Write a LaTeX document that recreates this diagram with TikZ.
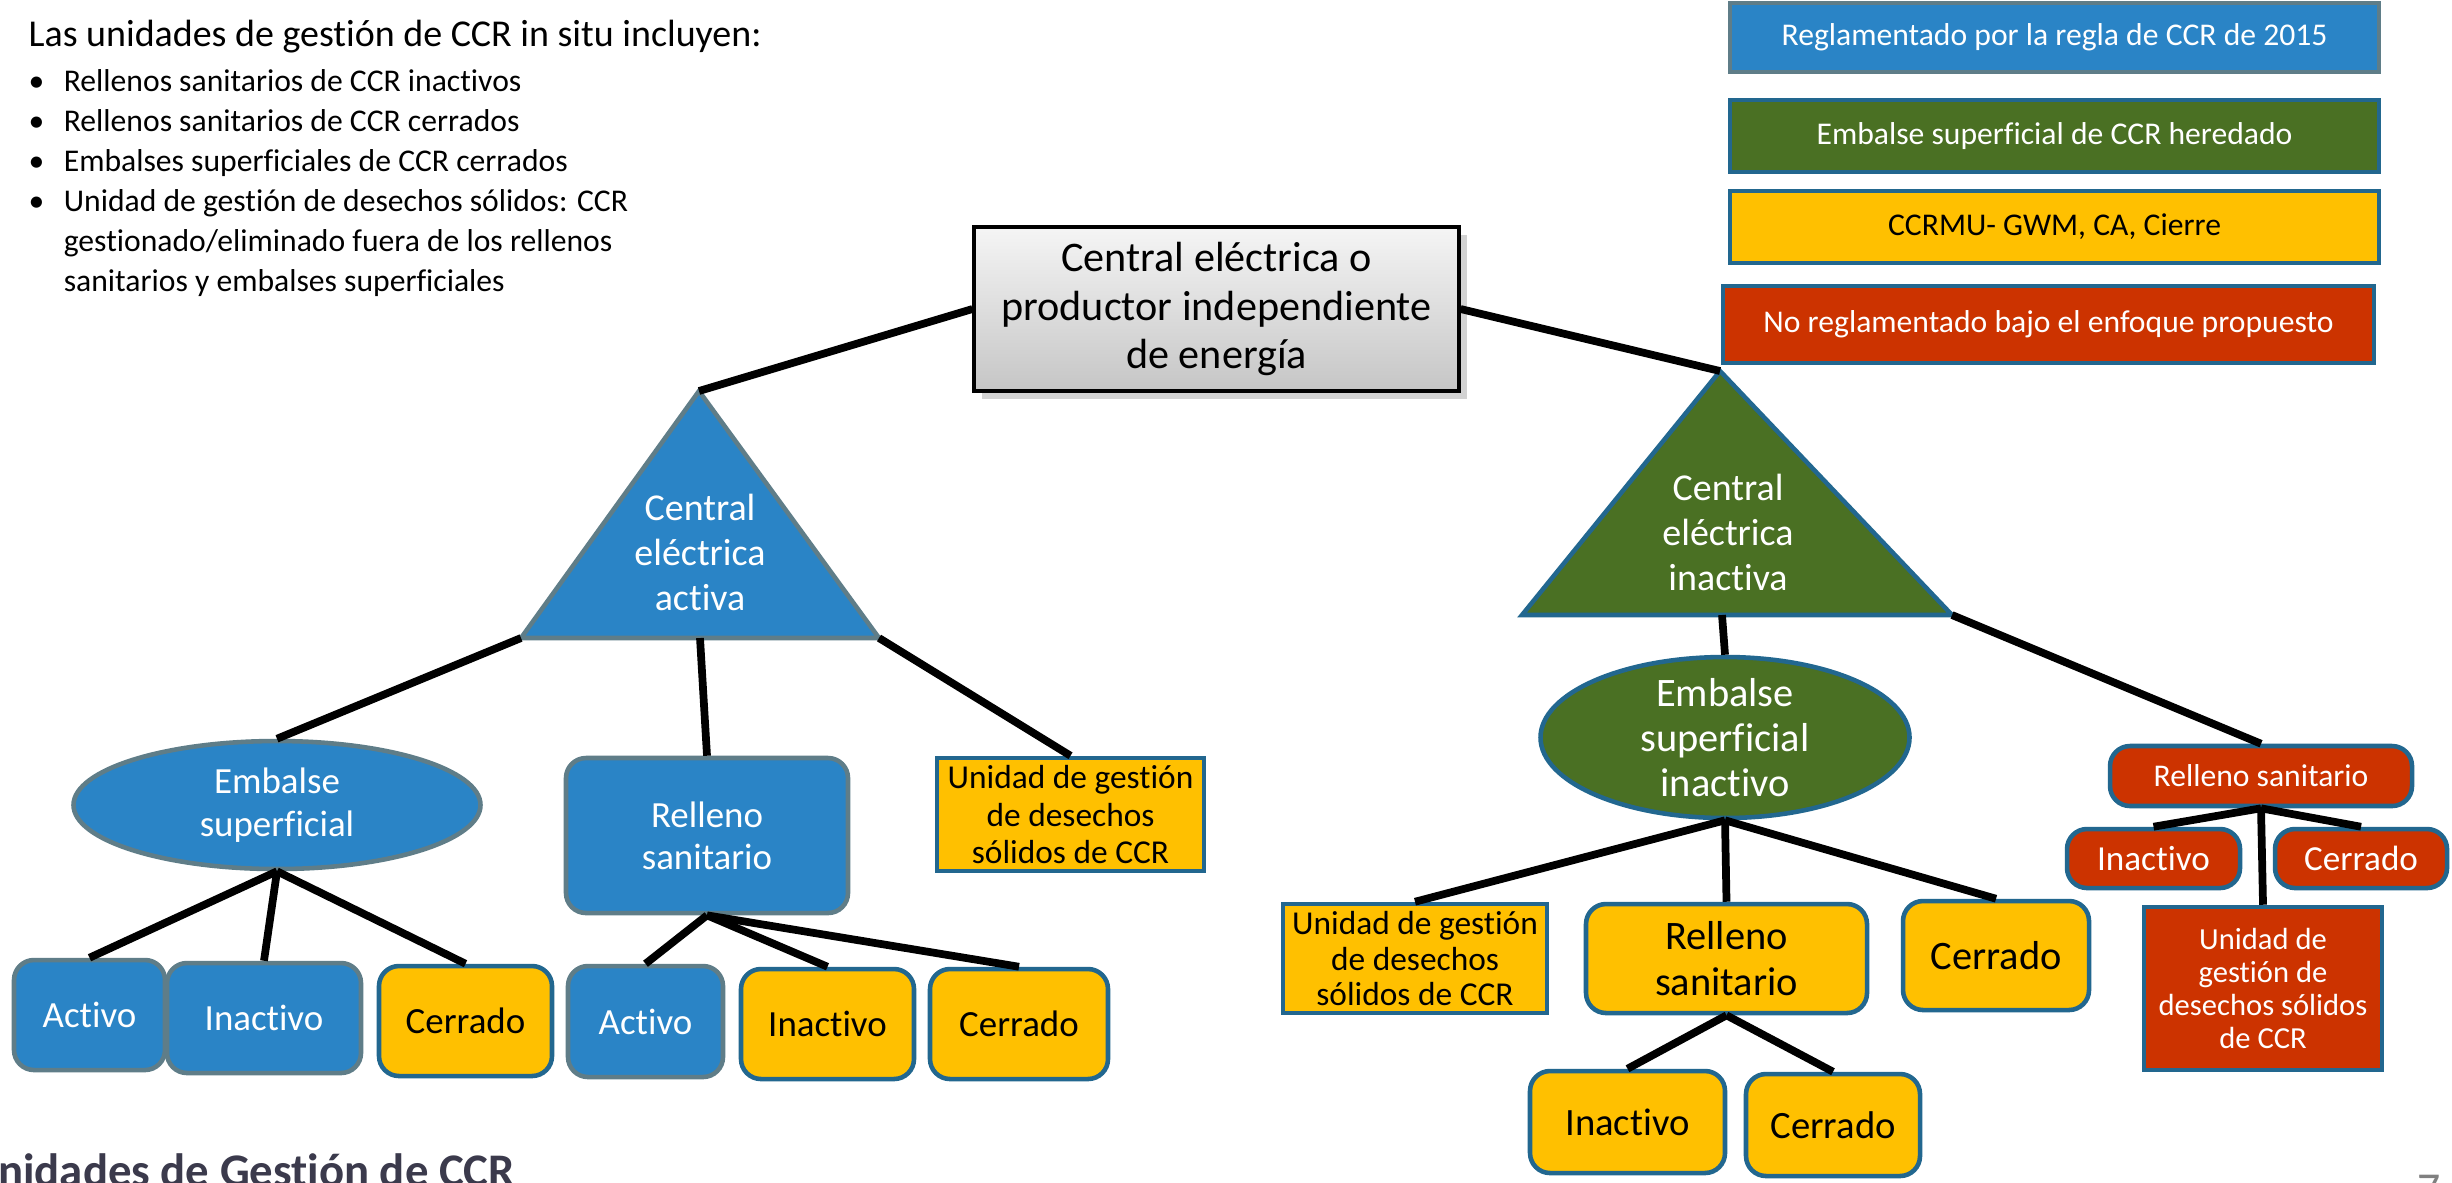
\documentclass[tikz,border=0pt]{standalone}
\usepackage{fontspec}
\setmainfont[Ligatures=NoCommon]{Carlito}
\usetikzlibrary{shapes.geometric}
\usetikzlibrary{shadows}

\definecolor{ccrblue}{HTML}{2A84C6}
\definecolor{ccrgreen}{HTML}{4A7023}
\definecolor{ccryellow}{HTML}{FFC000}
\definecolor{ccrred}{HTML}{CC3300}
\definecolor{edgegray}{HTML}{5F7D88}
\definecolor{edgeblue}{HTML}{22678F}
\definecolor{ttlgray}{HTML}{3B3A4C}

\newcommand{\fs}[2]{\fontsize{#1}{#2}\selectfont}

\tikzset{
  box/.style={draw, line width=1.3pt, align=center, inner sep=0pt},
  bluebox/.style={box, fill=ccrblue, draw=edgegray, text=white},
  greenbox/.style={box, fill=ccrgreen, draw=edgeblue, text=white},
  yellowbox/.style={box, fill=ccryellow, draw=edgeblue, text=black},
  redbox/.style={box, fill=ccrred, draw=edgeblue, text=white},
  rnd/.style={rounded corners=2mm},
  wh/.style 2 args={minimum width=#1cm, minimum height=#2cm},
  link/.style={line width=2.2pt, black},
}

\begin{document}
\begin{tikzpicture}
\useasboundingbox (0,0) rectangle (24.52,-11.82);
\clip (0,0) rectangle (24.52,-11.82);
\fill[white] (0,0) rectangle (24.52,-11.82);

\node[anchor=base west, inner sep=0pt, font=\fs{9}{11.4}] (lst) at (0.28,-0.46) {%
\begin{tabular}[t]{@{}p{10pt}@{}l@{}}
\multicolumn{2}{@{}l@{}}{\fs{10.8}{12.6}Las unidades de gestión de CCR in situ incluyen:}\\[1.5pt]
\textbullet & Rellenos sanitarios de CCR inactivos\\
\textbullet & Rellenos sanitarios de CCR cerrados\\
\textbullet & Embalses superficiales de CCR cerrados\\
\textbullet & Unidad de gestión de desechos sólidos: CCR\\
 & gestionado/eliminado fuera de los rellenos\\
 & sanitarios y embalses superficiales
\end{tabular}};

\node[bluebox, wh={6.49}{0.69}, font=\fs{9}{11}] (k1) at (20.545,-0.375) {Reglamentado por la regla de CCR de 2015};
\node[greenbox, wh={6.49}{0.72}, font=\fs{9}{11}] (k2) at (20.545,-1.36) {Embalse superficial de CCR heredado};
\node[yellowbox, wh={6.49}{0.72}, font=\fs{9}{11}] (k3) at (20.545,-2.27) {CCRMU- GWM, CA, Cierre};
\node[redbox, wh={6.51}{0.77}, font=\fs{9}{11}] (k4) at (20.485,-3.245) {No reglamentado bajo el enfoque propuesto};

\node[box, draw=black, line width=0.9pt, top color=gray!8, bottom color=gray!45,
  drop shadow={opacity=0.35}, wh={4.85}{1.64}, font=\fs{12}{13.8}] (p0) at (12.165,-3.09)
  {Central eléctrica o\\productor independiente\\de energía};

\coordinate (t1a) at (6.99,-3.91);
\coordinate (t1l) at (5.21,-6.38);
\coordinate (t1r) at (8.79,-6.38);
\coordinate (t1b) at (7.00,-6.38);
\draw[bluebox] (t1a) -- (t1l) -- (t1r) -- cycle;
\node[text=white, align=center, font=\fs{10.8}{12.8}] (t1) at (7.0,-5.52) {Central\\eléctrica\\activa};

\coordinate (t2a) at (17.20,-3.71);
\coordinate (t2l) at (15.22,-6.15);
\coordinate (t2r) at (19.52,-6.15);
\coordinate (t2b) at (17.22,-6.15);
\draw[greenbox] (t2a) -- (t2l) -- (t2r) -- cycle;
\node[text=white, align=center, font=\fs{10.8}{12.8}] (t2) at (17.28,-5.32) {Central\\eléctrica\\inactiva};

\node[bluebox, ellipse, wh={4.07}{1.28}, font=\fs{10.5}{12.4}] (e1) at (2.77,-8.05) {Embalse\\superficial};
\node[bluebox, rnd, wh={2.82}{1.55}, font=\fs{10.5}{12}] (b1) at (7.07,-8.355) {Relleno\\sanitario};
\node[yellowbox, wh={2.67}{1.13}, font=\fs{9.5}{10.7}] (u1) at (10.705,-8.145) {Unidad de gestión\\de desechos\\sólidos de CCR};

\node[bluebox, rnd, wh={1.51}{1.10}, font=\fs{10.5}{12}] (a1) at (0.895,-10.15) {Activo};
\node[bluebox, rnd, wh={1.94}{1.10}, font=\fs{10.5}{12}] (i1) at (2.64,-10.18) {Inactivo};
\node[yellowbox, rnd, wh={1.73}{1.10}, font=\fs{10.5}{12}] (c1) at (4.655,-10.21) {Cerrado};
\node[bluebox, rnd, wh={1.55}{1.11}, font=\fs{10.5}{12}] (a2) at (6.455,-10.215) {Activo};
\node[yellowbox, rnd, wh={1.73}{1.10}, font=\fs{10.5}{12}] (i2) at (8.275,-10.24) {Inactivo};
\node[yellowbox, rnd, wh={1.78}{1.10}, font=\fs{10.5}{12}] (c2) at (10.19,-10.24) {Cerrado};

\node[greenbox, ellipse, inner ysep=-0.12cm, wh={3.69}{1.61}, font=\fs{11.5}{12.7}] (e2) at (17.25,-7.375) {Embalse\\superficial\\inactivo};
\node[yellowbox, wh={2.64}{1.09}, font=\fs{9.5}{10}] (u2) at (14.15,-9.585) {Unidad de gestión\\de desechos\\sólidos de CCR};
\node[yellowbox, rnd, wh={2.81}{1.09}, font=\fs{11.5}{13}] (r2) at (17.265,-9.585) {Relleno\\sanitario};
\node[yellowbox, rnd, wh={1.86}{1.09}, font=\fs{11.5}{13}] (c3) at (19.96,-9.555) {Cerrado};
\node[yellowbox, rnd, wh={1.95}{1.02}, font=\fs{11}{13}] (i3) at (16.275,-11.22) {Inactivo};
\node[yellowbox, rnd, wh={1.74}{1.02}, font=\fs{11}{13}] (c4) at (18.33,-11.25) {Cerrado};

\node[redbox, rnd, wh={3.02}{0.60}, font=\fs{9}{11}] (r3) at (22.61,-7.76) {Relleno sanitario};
\node[redbox, rnd, wh={1.73}{0.59}, font=\fs{10}{12}] (i4) at (21.535,-8.585) {Inactivo};
\node[redbox, rnd, wh={1.72}{0.59}, font=\fs{10}{12}] (c5) at (23.61,-8.585) {Cerrado};
\node[redbox, wh={2.38}{1.63}, font=\fs{8.7}{9.4}] (u3) at (22.63,-9.885) {Unidad de\\gestión de\\desechos sólidos\\de CCR};

\node[anchor=base west, inner sep=0pt, text=ttlgray, font=\bfseries\fs{13.3}{16}] (ttl) at (-0.33,-11.86) {Unidades de Gestión de CCR};
\node[anchor=north west, inner sep=0pt, text=gray, font=\fs{13}{15}] (pg) at (24.17,-11.74) {7};

\draw[link] (p0.west) -- (t1a);
\draw[link] (p0.east) -- (t2a);
\draw[link] (t1l) -- (e1.north);
\draw[link] (t1b) -- (b1.north);
\draw[link] (t1r) -- (u1.north);
\draw[link] (e1.south) -- (a1.north);
\draw[link] (e1.south) -- (i1.north);
\draw[link] (e1.south) -- (c1.north);
\draw[link] (b1.south) -- (a2.north);
\draw[link] (b1.south) -- (i2.north);
\draw[link] (b1.south) -- (c2.north);
\draw[link] (t2b) -- (e2.north);
\draw[link] (t2r) -- (r3.north);
\draw[link] (e2.south) -- (u2.north);
\draw[link] (e2.south) -- (r2.north);
\draw[link] (e2.south) -- (c3.north);
\draw[link] (r2.south) -- (i3.north);
\draw[link] (r2.south) -- (c4.north);
\draw[link] (r3.south) -- (i4.north);
\draw[link] (r3.south) -- (c5.north);
\draw[link] (r3.south) -- (u3.north);
\end{tikzpicture}
\end{document}
